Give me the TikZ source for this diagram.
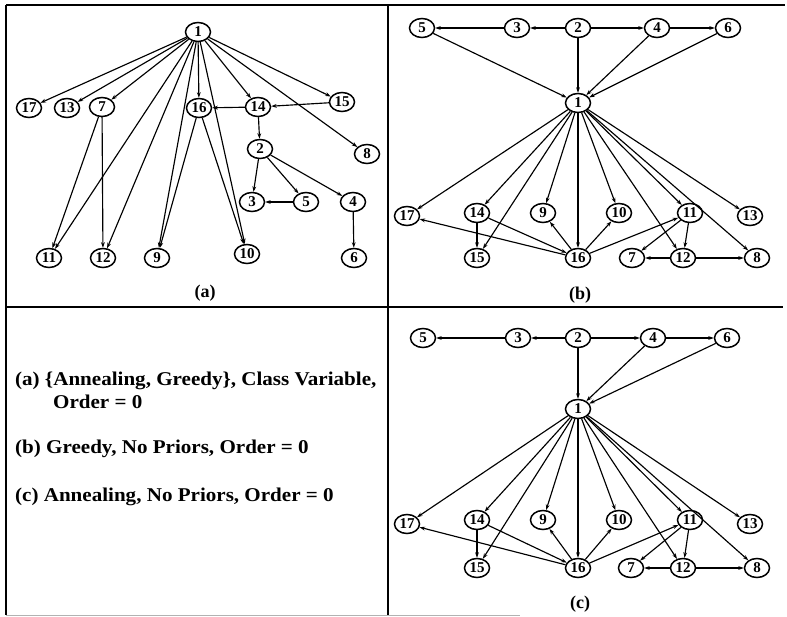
\documentclass[tikz,border=0pt]{standalone}
\usepackage{fontspec}
\setmainfont{Liberation Serif}
\newfontfamily\legfont[FakeStretch=1.08]{Liberation Serif}
\usetikzlibrary{shapes.geometric,arrows.meta}
\tikzset{
  nd/.style={draw, ellipse, line width=1.5pt, minimum width=25pt, minimum height=19pt, inner sep=0pt, font=\bfseries\fontsize{15}{15}\selectfont},
  ar/.style={-{Stealth[length=5.5pt,width=3.8pt]}, line width=1.15pt},
  frm/.style={line width=1.7pt},
  txt/.style={anchor=base west, inner sep=0pt, font=\legfont\bfseries\fontsize{19.5}{19.5}\selectfont},
  lbl/.style={inner sep=0pt, font=\bfseries\fontsize{18}{18}\selectfont}
}
\begin{document}
\begin{tikzpicture}[x=1pt,y=-1pt]
\useasboundingbox (0,0) rectangle (787,617);
% frame
\coordinate (f1) at (6,5); \coordinate (f2) at (785,5);
\coordinate (f3) at (6,615); \coordinate (f4) at (388,5); \coordinate (f5) at (388,615);
\coordinate (f6) at (6,307); \coordinate (f7) at (783,307);
\coordinate (f8) at (520,615);
\draw[frm] (f1) -- (f2);
\draw[frm] (f1) -- (f3);
\draw[frm] (f4) -- (f5);
\draw[frm] (f6) -- (f7);
\draw[line width=1pt, black!30] (f3) -- (f8);

% ---------- panel (a)
\node[nd] (a1) at (198,32) {1};
\node[nd] (a17) at (29,108) {17};
\node[nd] (a13) at (67,108) {13};
\node[nd] (a7) at (102,107) {7};
\node[nd] (a16) at (199,108) {16};
\node[nd] (a14) at (258,107) {14};
\node[nd] (a15) at (342,102) {15};
\node[nd] (a2) at (260,149) {2};
\node[nd] (a8) at (367,154) {8};
\node[nd] (a3) at (252,202) {3};
\node[nd] (a5) at (306,202) {5};
\node[nd] (a4) at (353,202) {4};
\node[nd] (a11) at (49,258) {11};
\node[nd] (a12) at (103,258) {12};
\node[nd] (a9) at (157,258) {9};
\node[nd] (a10) at (247,254) {10};
\node[nd] (a6) at (354,258) {6};
\foreach \t in {17,13,7,16,14,15,8,11,12,9,10} \draw[ar] (a1) -- (a\t);
\draw[ar] (a7) -- (a11);
\draw[ar] (a7) -- (a12);
\draw[ar] (a16) -- (a9);
\draw[ar] (a16) -- (a10);
\draw[ar] (a14) -- (a16);
\draw[ar] (a15) -- (a14);
\draw[ar] (a14) -- (a2);
\draw[ar] (a2) -- (a3);
\draw[ar] (a2) -- (a5);
\draw[ar] (a2) -- (a4);
\draw[ar] (a5) -- (a3);
\draw[ar] (a4) -- (a6);
\node[lbl] (la) at (205,293) {(a)};

% ---------- panel (b)
\node[nd] (b5) at (422,28) {5};
\node[nd] (b3) at (517,28) {3};
\node[nd] (b2) at (578,28) {2};
\node[nd] (b4) at (657,28) {4};
\node[nd] (b6) at (728,28) {6};
\node[nd] (b1) at (578,103) {1};
\node[nd] (b17) at (407,216) {17};
\node[nd] (b14) at (477,213) {14};
\node[nd] (b9) at (543,213) {9};
\node[nd] (b10) at (619,213) {10};
\node[nd] (b11) at (690,213) {11};
\node[nd] (b13) at (750,216) {13};
\node[nd] (b15) at (477,258) {15};
\node[nd] (b16) at (578,258) {16};
\node[nd] (b7) at (632,258) {7};
\node[nd] (b12) at (683,258) {12};
\node[nd] (b8) at (757,258) {8};
\draw[ar] (b3) -- (b5);
\draw[ar] (b2) -- (b3);
\draw[ar] (b2) -- (b4);
\draw[ar] (b4) -- (b6);
\foreach \s in {5,2,4,6} \draw[ar] (b\s) -- (b1);
\foreach \t in {17,14,15,9,16,10,12,11,8,13} \draw[ar] (b1) -- (b\t);
\draw[ar] (b14) -- (b15);
\draw[ar] (b14) -- (b16);
\foreach \t in {17,9,10,11} \draw[ar] (b16) -- (b\t);
\draw[ar] (b11) -- (b7);
\draw[ar] (b11) -- (b12);
\draw[ar] (b12) -- (b7);
\draw[ar] (b12) -- (b8);
\node[lbl] (lb) at (580,295) {(b)};

% ---------- panel (c)
\node[nd] (c5) at (423,338) {5};
\node[nd] (c3) at (518,338) {3};
\node[nd] (c2) at (578,338) {2};
\node[nd] (c4) at (653,338) {4};
\node[nd] (c6) at (727,338) {6};
\node[nd] (c1) at (578,409) {1};
\node[nd] (c17) at (407,524) {17};
\node[nd] (c14) at (477,520) {14};
\node[nd] (c9) at (543,520) {9};
\node[nd] (c10) at (619,520) {10};
\node[nd] (c11) at (690,520) {11};
\node[nd] (c13) at (750,524) {13};
\node[nd] (c15) at (477,568) {15};
\node[nd] (c16) at (578,568) {16};
\node[nd] (c7) at (631,568) {7};
\node[nd] (c12) at (683,568) {12};
\node[nd] (c8) at (757,568) {8};
\draw[ar] (c3) -- (c5);
\draw[ar] (c2) -- (c3);
\draw[ar] (c2) -- (c4);
\draw[ar] (c4) -- (c6);
\foreach \s in {2,4,6} \draw[ar] (c\s) -- (c1);
\foreach \t in {17,14,15,9,16,10,12,11,8,13} \draw[ar] (c1) -- (c\t);
\draw[ar] (c14) -- (c15);
\draw[ar] (c14) -- (c16);
\foreach \t in {17,9,10,11} \draw[ar] (c16) -- (c\t);
\draw[ar] (c11) -- (c7);
\draw[ar] (c11) -- (c12);
\draw[ar] (c12) -- (c7);
\draw[ar] (c12) -- (c8);
\node[lbl] (lc) at (580,604) {(c)};

% ---------- legend text
\node[txt] (t1) at (15,386) {(a) \{Annealing, Greedy\}, Class Variable,};
\node[txt] (t2) at (53,409) {Order = 0};
\node[txt] (t3) at (15,453) {(b) Greedy, No Priors, Order = 0};
\node[txt] (t4) at (15,501) {(c) Annealing, No Priors, Order = 0};
\end{tikzpicture}
\end{document}
